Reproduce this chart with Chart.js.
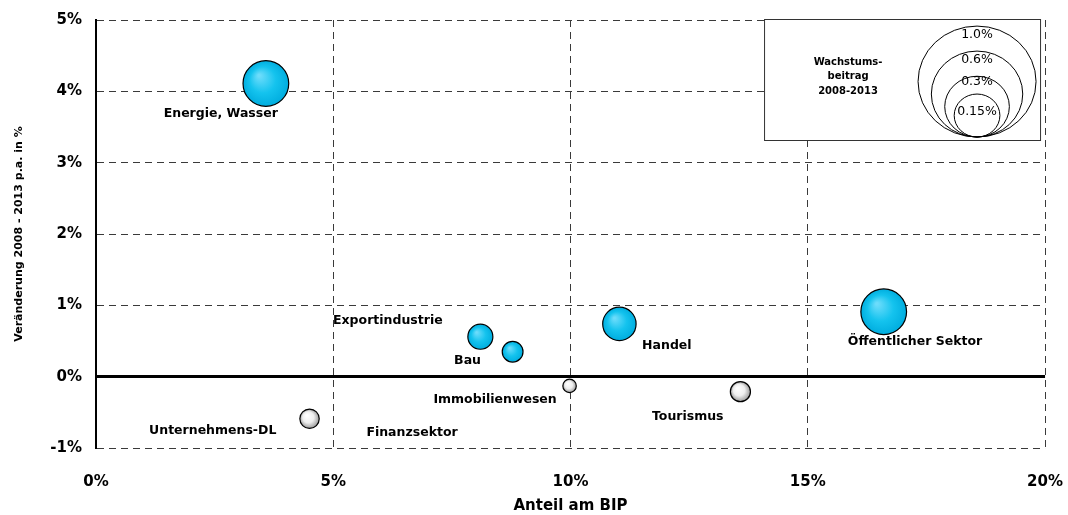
<!DOCTYPE html>
<html>
<head>
<meta charset="utf-8">
<script src="https://cdn.jsdelivr.net/npm/chart.js@4"></script>
<style>
  html, body { margin:0; padding:0; background:#fff; }
  #wrap { width:1068px; height:515px; }
</style>
</head>
<body>
<div id="wrap"><canvas id="chart"></canvas></div>
<script>
/* data */
const sektoren = ['Energie, Wasser','Exportindustrie','Bau','Handel','Öffentlicher Sektor','Immobilienwesen','Tourismus','Unternehmens-DL','Finanzsektor'];
const anteilBIP = [3.58, 8.1, 8.78, 11.03, 16.6, 9.98, 13.58, 4.5, null];       // x, %
const veraenderung = [4.11, 0.56, 0.35, 0.74, 0.91, -0.13, -0.21, -0.59, null]; // y, % p.a.
const wachstumsbeitrag = [0.15, 0.045, 0.031, 0.08, 0.15, -0.013, -0.029, -0.027, null];

/* where each sector name sits, in axis units */
const labelX = [2.63, 6.15, 7.83, 12.03, 17.26, 8.41, 12.47, 2.46, 6.66];
const labelY = [3.69, 0.78, 0.22, 0.43, 0.49, -0.33, -0.56, -0.76, -0.78];

const legendWerte = [1.0, 0.6, 0.3, 0.15];
const legendTexte = ['1.0%', '0.6%', '0.3%', '0.15%'];

const xTicks = [0, 5, 10, 15, 20];
const yTicks = [-1, 0, 1, 2, 3, 4, 5];

const FONT = "'DejaVu Sans', Verdana, sans-serif";
const R_EINS = 59; // bubble radius for 1.0% contribution

function radius(v){
    return R_EINS * Math.sqrt(Math.abs(v));
}

const punkte = [];
sektoren.forEach((s, i) => {
    if (anteilBIP[i] === null) return;
    punkte.push({ x: anteilBIP[i], y: veraenderung[i], r: radius(wachstumsbeitrag[i]), b: wachstumsbeitrag[i] });
});

function bubbleFill(ctx){
    const chart = ctx.chart;
    const p = ctx.raw;
    const flat = (p && p.b < 0) ? '#e8e8e8' : '#1ec8f0';
    if (!p || !chart.scales.x || !chart.chartArea) return flat;
    const cx = chart.scales.x.getPixelForValue(p.x);
    const cy = chart.scales.y.getPixelForValue(p.y);
    if (!isFinite(cx) || !isFinite(cy)) return flat;
    const g = chart.ctx.createRadialGradient(cx - p.r*0.3, cy - p.r*0.35, p.r*0.05, cx, cy, p.r);
    if (p.b >= 0) {
        g.addColorStop(0, '#6cdcfb');
        g.addColorStop(0.55, '#14c3ee');
        g.addColorStop(1, '#00addf');
    } else {
        g.addColorStop(0, '#ffffff');
        g.addColorStop(0.55, '#eeeeee');
        g.addColorStop(1, '#9a9a9a');
    }
    return g;
}

const beschriftung = {
    id: 'beschriftung',
    afterDatasetsDraw(chart){
        const {ctx, scales:{x, y}} = chart;
        ctx.save();
        ctx.font = 'bold 12.5px ' + FONT;
        ctx.fillStyle = '#000';
        ctx.textAlign = 'center';
        ctx.textBaseline = 'middle';
        sektoren.forEach((s, i) => {
            ctx.fillText(s, x.getPixelForValue(labelX[i]), y.getPixelForValue(labelY[i]));
        });
        ctx.restore();
    }
};

/* size legend box, top right */
const groessenLegende = {
    id: 'groessenLegende',
    afterDraw(chart){
        const ctx = chart.ctx;
        const area = chart.chartArea;
        const bx = area.right - 281, by = area.top - 1, bw = 276, bh = 121;
        ctx.save();
        ctx.fillStyle = '#fff';
        ctx.fillRect(bx, by, bw, bh);
        ctx.strokeStyle = '#333';
        ctx.lineWidth = 1;
        ctx.strokeRect(bx + 0.5, by + 0.5, bw, bh);

        ctx.fillStyle = '#000';
        ctx.font = 'bold 10px ' + FONT;
        ctx.textAlign = 'center';
        ctx.textBaseline = 'middle';
        ['Wachstums-', 'beitrag', '2008-2013'].forEach((t, i) => {
            ctx.fillText(t, bx + 84, by + 43 + i*14.5);
        });

        const cx = bx + 213, boden = by + bh - 3;
        ctx.strokeStyle = '#000';
        ctx.lineWidth = 1;
        ctx.font = '12.5px ' + FONT;
        legendWerte.forEach((v, i) => {
            const rx = radius(v), ry = rx * 0.94;
            ctx.beginPath();
            ctx.ellipse(cx, boden - ry, rx, ry, 0, 0, Math.PI*2);
            ctx.stroke();
        });
        const textY = [16, 41, 63, 93];
        legendTexte.forEach((t, i) => {
            ctx.fillText(t, cx, by + textY[i]);
        });
        ctx.restore();
    }
};

new Chart(document.getElementById('chart'), {
    type: 'bubble',
    data: {
        datasets: [{
            data: punkte,
            backgroundColor: bubbleFill,
            borderColor: '#000',
            borderWidth: 1.2,
            hoverRadius: 0,
            clip: false
        }]
    },
    options: {
        responsive: true,
        maintainAspectRatio: false,
        animation: false,
        layout: { autoPadding: false, padding: { left: 0, top: 20, right: 22, bottom: 0 } },
        plugins: {
            legend: { display: false },
            tooltip: { enabled: false }
        },
        scales: {
            x: {
                type: 'linear',
                min: 0, max: 20,
                afterBuildTicks: (s) => { s.ticks = xTicks.map(v => ({ value: v })); },
                afterFit: (s) => { s.height = 67; },
                ticks: {
                    padding: 5,
                    color: '#000',
                    font: { family: FONT, size: 15, weight: 'bold' },
                    callback: (v) => v + '%'
                },
                grid: {
                    drawTicks: true,
                    tickLength: 20,
                    tickColor: 'rgba(0,0,0,0)',
                    color: (c) => (c.tick && c.tick.value === 0 ? 'rgba(0,0,0,0)' : '#3a3a3a'),
                    lineWidth: 1
                },
                border: { display: false, dash: (c) => (c.tick ? [7, 5] : []) },
                title: {
                    display: true,
                    text: 'Anteil am BIP',
                    color: '#000',
                    font: { family: FONT, size: 15, weight: 'bold' },
                    padding: { top: 0, bottom: 0 }
                }
            },
            y: {
                type: 'linear',
                min: -1, max: 5,
                afterBuildTicks: (s) => { s.ticks = yTicks.map(v => ({ value: v })); },
                afterFit: (s) => { s.width = 96; },
                ticks: {
                    padding: 4,
                    color: '#000',
                    font: { family: FONT, size: 15, weight: 'bold' },
                    callback: (v) => v + '%'
                },
                grid: {
                    drawTicks: true,
                    tickLength: 10,
                    tickColor: 'rgba(0,0,0,0)',
                    color: (c) => (c.tick && c.tick.value === 0 ? '#000' : '#3a3a3a'),
                    lineWidth: (c) => (c.tick && c.tick.value === 0 ? 3 : 1)
                },
                border: {
                    display: true,
                    color: '#000',
                    width: 2,
                    dash: (c) => (c.tick && c.tick.value !== 0 ? [7, 5] : [])
                },
                title: {
                    display: true,
                    text: 'Veränderung 2008 - 2013 p.a. in %',
                    color: '#000',
                    font: { family: FONT, size: 11, weight: 'bold' },
                    padding: { top: 13, bottom: 0 }
                }
            }
        }
    },
    plugins: [beschriftung, groessenLegende]
});
</script>
</body>
</html>
